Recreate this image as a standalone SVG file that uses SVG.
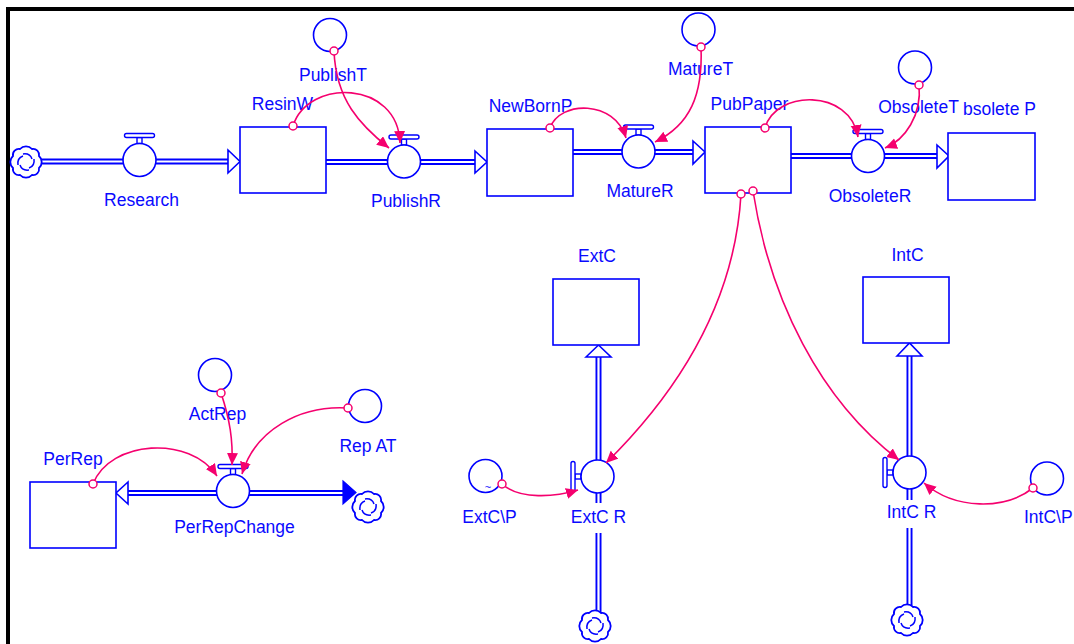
<svg xmlns="http://www.w3.org/2000/svg" xmlns:xlink="http://www.w3.org/1999/xlink" width="1074" height="644" viewBox="0 0 1074 644">
<style>
.bl{fill:none;stroke:#0000ff;stroke-width:1.6}
.stock{fill:#fff;stroke:#0000ff;stroke-width:1.6}
.pipeo{fill:none;stroke:#0000ff;stroke-width:6}
.pipei{fill:none;stroke:#fff;stroke-width:2.2}
.harr{fill:#fff;stroke:#0000ff;stroke-width:1.6;stroke-linejoin:miter}
.farr{fill:#0000ff;stroke:#0000ff;stroke-width:1.2}
.lnk{fill:none;stroke:#f5006e;stroke-width:1.6}
.org{fill:#fff;stroke:#f5006e;stroke-width:1.5}
text{font-family:"Liberation Sans",Arial,sans-serif;font-size:17.5px;fill:#0a0aff}
.m{text-anchor:middle}
</style>
<defs>
<marker id="ah" markerUnits="userSpaceOnUse" markerWidth="14" markerHeight="12" refX="12" refY="5.5" orient="auto">
<path d="M0,0 L12,5.5 L0,11 Z" fill="#f5006e"/>
</marker>
<g id="valveH">
<rect x="-2.5" y="-22.5" width="5" height="6" fill="#fff" stroke="#0000ff" stroke-width="1.4"/>
<rect x="-15" y="-26.5" width="30" height="4" rx="2" fill="#fff" stroke="#0000ff" stroke-width="1.4"/>
<circle r="16.5" fill="#fff" stroke="#0000ff" stroke-width="1.6"/>
</g>
<g id="valveV">
<rect x="-22.5" y="-2.5" width="6" height="5" fill="#fff" stroke="#0000ff" stroke-width="1.4"/>
<rect x="-26.5" y="-15" width="4" height="30" rx="2" fill="#fff" stroke="#0000ff" stroke-width="1.4"/>
<circle r="16.5" fill="#fff" stroke="#0000ff" stroke-width="1.6"/>
</g>
<circle id="aux" r="16.5" fill="#fff" stroke="#0000ff" stroke-width="1.6"/>
<g id="cloud">
<path d="M-6,-13 A8,8 0 0 1 6,-13 A6,6 0 0 1 13,-6 A8,8 0 0 1 13,6 A6,6 0 0 1 6,13 A8,8 0 0 1 -6,13 A6,6 0 0 1 -13,6 A8,8 0 0 1 -13,-6 A6,6 0 0 1 -6,-13 Z" fill="#fff" stroke="#0000ff" stroke-width="1.8"/>
<path d="M-3,-8 Q4,-9 6,-3 M8,-3 Q9,4 3,6 M3,8 Q-4,9 -6,3 M-8,3 Q-9,-4 -3,-6" fill="none" stroke="#0000ff" stroke-width="1.5"/>
</g>
</defs>
<rect width="1074" height="644" fill="#fff"/>
<rect x="6" y="7" width="1068" height="4" fill="#000"/>
<rect x="6" y="7" width="4" height="637" fill="#000"/>

<g id="flows">
<path class="pipeo" d="M40,161.5 H229 M326,162 H476 M573,152 H694 M791,156 H938 M128,493 H344 M598.5,357 V503 M598.5,533 V613 M909.5,356 V500 M909.5,528 V606"/>
<path class="pipei" d="M40,161.5 H229 M326,162 H476 M573,152 H694 M791,156 H938 M128,493 H344 M598.5,357 V503 M598.5,533 V613 M909.5,356 V500 M909.5,528 V606"/>
<polygon class="harr" points="228,150 240,161.5 228,173"/>
<polygon class="harr" points="475,151 487,162 475,173"/>
<polygon class="harr" points="693,141 705,152 693,164"/>
<polygon class="harr" points="937,145 949,156 937,168"/>
<polygon class="harr" points="128,482 116,493 128,504"/>
<polygon class="farr" points="343,481 356,492.5 343,504"/>
<polygon class="harr" points="586,357 598.5,345 611,357"/>
<polygon class="harr" points="897,356 909.5,343 922,356"/>
</g>

<g id="cloud-research"><use xlink:href="#cloud" href="#cloud" transform="translate(26,162)"/></g>
<g id="cloud-perrep"><use xlink:href="#cloud" href="#cloud" transform="translate(368,507)"/></g>
<g id="cloud-extc"><use xlink:href="#cloud" href="#cloud" transform="translate(595,626)"/></g>
<g id="cloud-intc"><use xlink:href="#cloud" href="#cloud" transform="translate(907,620)"/></g>

<g id="ResinW"><rect class="stock" x="240" y="127" width="86" height="66"/><text class="m" x="282.5" y="110">ResinW</text></g>
<g id="NewBornP"><rect class="stock" x="487" y="129" width="86" height="67"/><text class="m" x="530.5" y="112">NewBornP</text></g>
<g id="PubPaper"><rect class="stock" x="705" y="127" width="86" height="66"/><text class="m" x="749.5" y="110">PubPaper</text></g>
<g id="ObsoleteP"><rect class="stock" x="948" y="133" width="87" height="67"/><text x="963" y="115">bsolete P</text></g>
<g id="ExtC"><rect class="stock" x="553" y="279" width="86" height="66"/><text class="m" x="597" y="262">ExtC</text></g>
<g id="IntC"><rect class="stock" x="863" y="277" width="86" height="66"/><text class="m" x="907.5" y="261">IntC</text></g>
<g id="PerRep"><rect class="stock" x="30" y="482" width="86" height="66"/><text class="m" x="73" y="465">PerRep</text></g>

<g id="Research"><use xlink:href="#valveH" href="#valveH" transform="translate(139.5,160)"/><text class="m" x="141.5" y="206">Research</text></g>
<g id="PublishR"><use xlink:href="#valveH" href="#valveH" transform="translate(404,161.5)"/><text class="m" x="406" y="207">PublishR</text></g>
<g id="MatureR"><use xlink:href="#valveH" href="#valveH" transform="translate(638.5,151.5)"/><text class="m" x="640" y="197">MatureR</text></g>
<g id="ObsoleteR"><use xlink:href="#valveH" href="#valveH" transform="translate(868,156)"/><text class="m" x="870" y="202">ObsoleteR</text></g>
<g id="PerRepChange"><use xlink:href="#valveH" href="#valveH" transform="translate(233,491)"/><text class="m" x="234.5" y="533">PerRepChange</text></g>
<g id="ExtCR"><use xlink:href="#valveV" href="#valveV" transform="translate(597.5,476.5)"/><text class="m" x="598.5" y="523">ExtC R</text></g>
<g id="IntCR"><use xlink:href="#valveV" href="#valveV" transform="translate(909.5,472.5)"/><text class="m" x="911.5" y="518">IntC R</text></g>

<g id="PublishT"><use xlink:href="#aux" href="#aux" transform="translate(330,35)"/><text class="m" x="333" y="81">PublishT</text></g>
<g id="MatureT"><use xlink:href="#aux" href="#aux" transform="translate(698.5,29.5)"/><text class="m" x="700.5" y="75">MatureT</text></g>
<g id="ObsoleteT"><use xlink:href="#aux" href="#aux" transform="translate(915,67.5)"/><text class="m" x="918.5" y="113">ObsoleteT</text></g>
<g id="ExtCP"><use xlink:href="#aux" href="#aux" transform="translate(485.5,476)"/><text x="488" y="491" style="font-size:11px" class="m">~</text><text class="m" x="489.5" y="523">ExtC\P</text></g>
<g id="IntCP"><use xlink:href="#aux" href="#aux" transform="translate(1047,478.5)"/><text x="1024" y="523">IntC\P</text></g>
<g id="ActRep"><use xlink:href="#aux" href="#aux" transform="translate(215,375)"/><text class="m" x="217.5" y="420">ActRep</text></g>
<g id="RepAT"><use xlink:href="#aux" href="#aux" transform="translate(365,406)"/><text class="m" x="368" y="452">Rep AT</text></g>

<g id="links">
<path class="lnk" marker-end="url(#ah)" d="M293,126 C308,78 398,80 400,143"/>
<path class="lnk" marker-end="url(#ah)" d="M334,51 C336,100 360,125 389,148"/>
<path class="lnk" marker-end="url(#ah)" d="M550,128 C560,100 615,100 626,138"/>
<path class="lnk" marker-end="url(#ah)" d="M701,47 C703,95 690,125 655,142"/>
<path class="lnk" marker-end="url(#ah)" d="M765,128 C775,90 850,88 858,137"/>
<path class="lnk" marker-end="url(#ah)" d="M919,85 C922,115 905,140 885,148"/>
<path class="lnk" marker-end="url(#ah)" d="M741,194 C735,300 680,390 606,463"/>
<path class="lnk" marker-end="url(#ah)" d="M753,191 C770,300 820,400 899,460"/>
<path class="lnk" marker-end="url(#ah)" d="M502,484 C520,500 555,497 578,490"/>
<path class="lnk" marker-end="url(#ah)" d="M1033,488 C1005,510 955,510 924,483"/>
<path class="lnk" marker-end="url(#ah)" d="M93,484 C110,440 190,435 217,476"/>
<path class="lnk" marker-end="url(#ah)" d="M221,393 C230,420 233,440 232,465"/>
<path class="lnk" marker-end="url(#ah)" d="M348,408 C300,405 255,430 242,474"/>
<circle class="org" cx="293" cy="126" r="4"/>
<circle class="org" cx="334" cy="51" r="4"/>
<circle class="org" cx="550" cy="128" r="4"/>
<circle class="org" cx="701" cy="47" r="4"/>
<circle class="org" cx="765" cy="128" r="4"/>
<circle class="org" cx="919" cy="85" r="4"/>
<circle class="org" cx="741" cy="194" r="4"/>
<circle class="org" cx="753" cy="191" r="4"/>
<circle class="org" cx="502" cy="484" r="4"/>
<circle class="org" cx="1033" cy="488" r="4"/>
<circle class="org" cx="93" cy="484" r="4"/>
<circle class="org" cx="221" cy="393" r="4"/>
<circle class="org" cx="348" cy="408" r="4"/>
</g>
</svg>
